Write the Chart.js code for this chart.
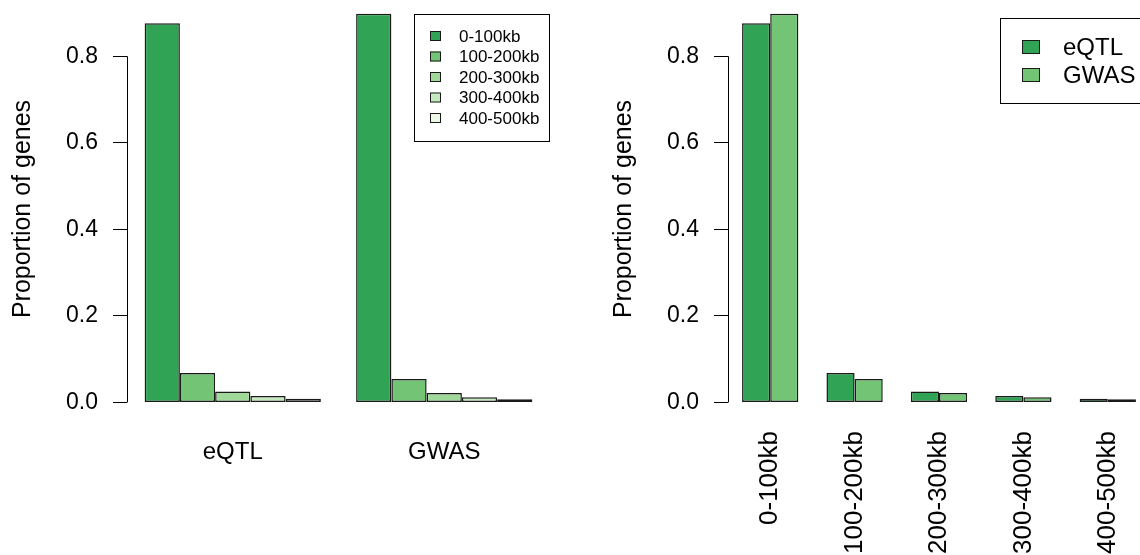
<!DOCTYPE html>
<html>
<head>
<meta charset="utf-8">
<script src="https://cdn.jsdelivr.net/npm/chart.js@4.4.1/dist/chart.umd.min.js"></script>
<style>
  html, body { margin: 0; padding: 0; background: #fff; overflow: hidden; }
  #wrap { position: relative; width: 1140px; height: 555px; overflow: hidden; }
  .box { position: absolute; top: 0; height: 555px; }
</style>
</head>
<body>
<div id="wrap">
  <div class="box" style="left:0; width:550px;"><canvas id="byStudy"></canvas></div>
  <div class="box" style="left:601px; width:549px;"><canvas id="byDistance"></canvas></div>
</div>
<script>
// distance bins and proportions
const distanceBins = ['0-100kb', '100-200kb', '200-300kb', '300-400kb', '400-500kb'];
const studies = ['eQTL', 'GWAS'];
const eqtlProp = [0.876, 0.068, 0.025, 0.015, 0.0085];
const gwasProp = [0.898, 0.054, 0.022, 0.012, 0.0075];
const yTicks = [0, 0.2, 0.4, 0.6, 0.8];

const binColors = ['#31a354', '#74c476', '#a1d99b', '#c7e9c0', '#edf8e9'];
const studyColors = ['#31a354', '#74c476'];
const FONT = "'Liberation Sans', Arial, sans-serif";

// R-style axis line (only from first to last tick) plus boxed legend
const rStyle = {
  id: 'rStyle',
  afterDraw(chart, args, opts) {
    const ctx = chart.ctx;
    const y = chart.scales.y;
    const x0 = chart.chartArea.left;
    ctx.save();
    ctx.strokeStyle = '#000';
    ctx.lineWidth = 1;
    ctx.beginPath();
    ctx.moveTo(x0 + 0.5, y.getPixelForValue(yTicks[0]));
    ctx.lineTo(x0 + 0.5, y.getPixelForValue(yTicks[yTicks.length - 1]));
    ctx.stroke();

    // legend
    const L = opts.legend;
    const sets = chart.data.datasets;
    const right = chart.chartArea.right;
    const left = right - L.width;
    ctx.fillStyle = '#fff';
    ctx.fillRect(left, L.top, L.width, L.height);
    ctx.strokeRect(left + 0.5, L.top + 0.5, L.width - 1, L.height - 1);
    ctx.font = L.fontSize + 'px ' + FONT;
    ctx.textBaseline = 'middle';
    ctx.textAlign = 'left';
    sets.forEach((ds, i) => {
      const cy = L.top + L.first + i * L.step;
      ctx.fillStyle = ds.backgroundColor;
      ctx.fillRect(left + L.boxX, cy - L.boxH / 2, L.boxW, L.boxH);
      ctx.strokeStyle = '#1a1a1a';
      ctx.strokeRect(left + L.boxX + 0.5, cy - L.boxH / 2 + 0.5, L.boxW - 1, L.boxH - 1);
      ctx.fillStyle = '#000';
      ctx.fillText(ds.label, left + L.textX, cy + 1);
    });
    ctx.restore();
  }
};

function makeOptions(xFontSize, rotate, xPad, legend) {
  return {
    responsive: true,
    maintainAspectRatio: false,
    animation: false,
    layout: { padding: 0 },
    plugins: {
      legend: { display: false },
      tooltip: { enabled: false },
      rStyle: { legend: legend }
    },
    scales: {
      x: {
        offset: true,
        grid: { display: false },
        border: { display: false },
        ticks: {
          color: '#000',
          autoSkip: false,
          minRotation: rotate,
          maxRotation: rotate,
          padding: xPad,
          font: { family: FONT, size: xFontSize }
        },
        afterFit: s => { s.height = 137; s.paddingLeft = 0; s.paddingRight = 0; }
      },
      y: {
        min: -0.036,
        max: 0.93,
        afterBuildTicks: s => { s.ticks = yTicks.map(v => ({ value: v })); },
        grid: { drawOnChartArea: false, drawTicks: true, tickLength: 14, color: '#000' },
        border: { display: false },
        ticks: {
          color: '#000',
          padding: 15,
          font: { family: FONT, size: 23 },
          callback: v => Number(v).toFixed(1)
        },
        title: {
          display: true,
          text: 'Proportion of genes',
          color: '#000',
          font: { family: FONT, size: 25 },
          padding: { top: 8, bottom: 0 }
        },
        afterFit: s => { s.width = 127; s.paddingTop = 0; s.paddingBottom = 0; }
      }
    }
  };
}

const barStyle = { borderColor: '#1a1a1a', borderWidth: 1.5, borderSkipped: false, barPercentage: 1 };

// left panel: grouped by study, one dataset per distance bin
new Chart(document.getElementById('byStudy'), {
  type: 'bar',
  data: {
    labels: studies,
    datasets: distanceBins.map((bin, i) => Object.assign({
      label: bin,
      data: [eqtlProp[i], gwasProp[i]],
      backgroundColor: binColors[i],
      categoryPercentage: 5 / 6
    }, barStyle))
  },
  plugins: [rStyle],
  options: makeOptions(24, 0, 12, {
    width: 136, top: 14, height: 128, first: 22, step: 20.5,
    boxX: 16, boxW: 11, boxH: 10, textX: 45, fontSize: 17
  })
});

// right panel: grouped by distance bin, one dataset per study
new Chart(document.getElementById('byDistance'), {
  type: 'bar',
  data: {
    labels: distanceBins,
    datasets: [
      Object.assign({ label: studies[0], data: eqtlProp, backgroundColor: studyColors[0], categoryPercentage: 2 / 3 }, barStyle),
      Object.assign({ label: studies[1], data: gwasProp, backgroundColor: studyColors[1], categoryPercentage: 2 / 3 }, barStyle)
    ]
  },
  plugins: [rStyle],
  options: makeOptions(26, 90, 5, {
    width: 150, top: 18, height: 86, first: 29, step: 28,
    boxX: 22, boxW: 18, boxH: 14, textX: 63, fontSize: 24
  })
});
</script>
</body>
</html>
